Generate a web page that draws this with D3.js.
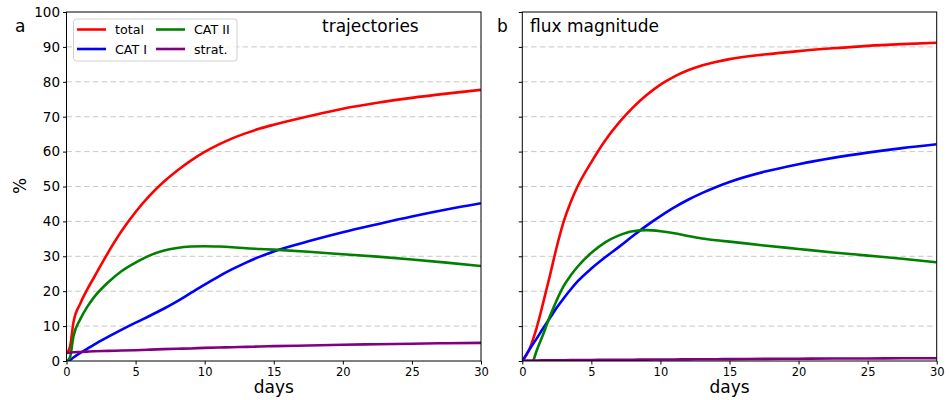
<!DOCTYPE html>
<html>
<head>
<meta charset="utf-8">
<script src="https://cdn.jsdelivr.net/npm/d3@7"></script>
<style>
  body { margin: 0; background: #fff; }
  svg { font-family: "DejaVu Sans", sans-serif; }
</style>
</head>
<body>
<div id="chart"></div>
<script>
// days sampled for panel a
const daysA = [0, 0.25, 0.5, 1, 1.5, 2, 3, 4, 5, 6, 7, 8, 9, 10, 11, 12, 13, 14, 15, 17.5, 20, 22.5, 25, 27.5, 30];
const totalA = [2.3, 4, 11, 16.5, 20.5, 24, 31, 37.3, 42.7, 47.3, 51.2, 54.5, 57.4, 59.9, 62, 63.8, 65.3, 66.6, 67.7, 70.1, 72.3, 74, 75.4, 76.6, 77.7];
const catIA = [0, 0.3, 1, 2.3, 3.5, 4.7, 6.9, 9, 11, 12.9, 14.9, 17.1, 19.5, 21.9, 24.2, 26.3, 28.2, 29.9, 31.4, 34.3, 36.9, 39.2, 41.4, 43.4, 45.2];
const catIIA = [0, 1, 7, 12, 15.5, 18.3, 22.5, 25.8, 28.2, 30.2, 31.6, 32.4, 32.8, 32.9, 32.8, 32.6, 32.3, 32.1, 31.9, 31.3, 30.6, 29.9, 29.1, 28.2, 27.2];
const stratA = [2.3, 2.4, 2.5, 2.6, 2.7, 2.8, 2.9, 3.0, 3.1, 3.25, 3.4, 3.5, 3.6, 3.75, 3.85, 3.95, 4.05, 4.15, 4.25, 4.45, 4.65, 4.8, 4.95, 5.1, 5.2];

// days sampled for panel b
const daysB = [0, 0.5, 0.8, 1, 1.5, 2, 2.5, 3, 3.5, 4, 5, 6, 7, 8, 9, 10, 11, 12, 13, 14, 15, 17.5, 20, 22.5, 25, 27.5, 30];
const totalB = [0, 3.2, 6.5, 9, 16.5, 24.5, 32.8, 40, 45.5, 50, 57, 63.2, 68.3, 72.6, 76.2, 79.2, 81.5, 83.3, 84.7, 85.7, 86.5, 87.8, 88.8, 89.6, 90.3, 90.8, 91.2];
const catIB = [0, 3.2, 5, 6.2, 9.3, 12.3, 15.3, 18, 20.5, 22.8, 26.5, 29.7, 32.7, 35.8, 38.8, 41.5, 44, 46.2, 48.1, 49.8, 51.3, 54.2, 56.4, 58.2, 59.7, 61, 62.1];
const catIIB = [null, null, 0, 2.5, 7.5, 12.8, 17.5, 21.5, 24.5, 27, 31, 34, 36, 37.2, 37.5, 37.2, 36.6, 35.8, 35.1, 34.6, 34.2, 33.1, 32.1, 31.1, 30.2, 29.3, 28.3];
const stratB = [0.1, 0.12, 0.14, 0.15, 0.17, 0.2, 0.21, 0.23, 0.25, 0.26, 0.3, 0.32, 0.35, 0.37, 0.4, 0.42, 0.45, 0.47, 0.5, 0.52, 0.55, 0.6, 0.65, 0.7, 0.73, 0.77, 0.8];

const seriesNames = ["total", "CAT I", "CAT II", "strat."];
const seriesColors = ["red", "blue", "green", "purple"];
const yTicks = [0, 10, 20, 30, 40, 50, 60, 70, 80, 90, 100];
const xTicks = [0, 5, 10, 15, 20, 25, 30];

const width = 951;
const height = 400;
const plotTop = 12, plotBottom = 361;

const panels = [
  { letter: "a", letterX: 15, title: "trajectories", titleX: 322, left: 66.5, right: 481, days: daysA,
    series: [totalA, catIA, catIIA, stratA], yLabels: true, legend: true },
  { letter: "b", letterX: 497, title: "flux magnitude", titleX: 530, left: 522.3, right: 936.7, days: daysB,
    series: [totalB, catIB, catIIB, stratB], yLabels: false, legend: false }
];

const svg = d3.select("#chart").append("svg")
  .attr("width", width)
  .attr("height", height);

const y = d3.scaleLinear().domain([0, 100]).range([plotBottom, plotTop]);

panels.forEach((p, pi) => {
  const x = d3.scaleLinear().domain([0, 30]).range([p.left, p.right]);
  const g = svg.append("g");

  // grid
  g.selectAll(".grid")
    .data(yTicks.filter(d => d > 0 && d < 100))
    .join("line")
    .attr("x1", p.left).attr("x2", p.right)
    .attr("y1", d => y(d)).attr("y2", d => y(d))
    .attr("stroke", "#c8c8c8")
    .attr("stroke-width", 1)
    .attr("stroke-dasharray", "5.5,3.3");

  // clip
  svg.append("clipPath").attr("id", "clip" + pi)
    .append("rect")
    .attr("x", p.left).attr("y", plotTop)
    .attr("width", p.right - p.left).attr("height", plotBottom - plotTop);

  const line = d3.line()
    .defined(d => d[1] != null)
    .x(d => x(d[0]))
    .y(d => y(d[1]))
    .curve(d3.curveMonotoneX);

  p.series.forEach((vals, i) => {
    g.append("path")
      .attr("clip-path", `url(#clip${pi})`)
      .attr("d", line(p.days.map((d, j) => [d, vals[j]])))
      .attr("fill", "none")
      .attr("stroke", seriesColors[i])
      .attr("stroke-width", 2.6)
      .attr("stroke-linejoin", "round");
  });

  // frame
  g.append("rect")
    .attr("x", p.left).attr("y", plotTop)
    .attr("width", p.right - p.left).attr("height", plotBottom - plotTop)
    .attr("fill", "none")
    .attr("stroke", "black")
    .attr("stroke-width", 1);

  // axes
  const yAxis = d3.axisLeft(y).tickValues(yTicks).tickSize(3.5).tickPadding(3)
    .tickFormat(p.yLabels ? d3.format("d") : "");
  const ya = g.append("g").attr("transform", `translate(${p.left},0)`).call(yAxis);
  ya.select(".domain").remove();
  ya.selectAll("text").attr("font-size", 13.5).attr("font-family", "DejaVu Sans").attr("fill", "#000");

  const xAxis = d3.axisBottom(x).tickValues(xTicks).tickSize(3.5).tickPadding(3);
  const xa = g.append("g").attr("transform", `translate(0,${plotBottom})`).call(xAxis);
  xa.select(".domain").remove();
  xa.selectAll("text").attr("font-size", 11.5).attr("font-family", "DejaVu Sans").attr("fill", "#000");

  // x label
  g.append("text")
    .attr("x", (p.left + p.right) / 2)
    .attr("y", 393)
    .attr("text-anchor", "middle")
    .attr("font-size", 17)
    .text("days");

  // panel letter
  g.append("text")
    .attr("x", p.letterX)
    .attr("y", 32)
    .attr("font-size", 17)
    .text(p.letter);

  // title
  g.append("text")
    .attr("x", p.titleX)
    .attr("y", 32)
    .attr("font-size", 17)
    .text(p.title);

  if (p.legend) {
    const lg = g.append("g");
    lg.append("rect")
      .attr("x", 73.5).attr("y", 19)
      .attr("width", 163.5).attr("height", 42)
      .attr("rx", 3)
      .attr("fill", "white").attr("fill-opacity", 0.8)
      .attr("stroke", "#d0d0d0");
    const cols = [0, 0, 1, 1];
    const rows = [0, 1, 0, 1];
    const colX = [77, 156];
    const rowY = [29.5, 49];
    seriesNames.forEach((name, i) => {
      const cx = colX[cols[i]];
      const cy = rowY[rows[i]];
      lg.append("line")
        .attr("x1", cx).attr("x2", cx + 29)
        .attr("y1", cy).attr("y2", cy)
        .attr("stroke", seriesColors[i])
        .attr("stroke-width", 2.6);
      lg.append("text")
        .attr("x", cx + 38)
        .attr("y", cy)
        .attr("dy", "0.36em")
        .attr("font-size", 12.7)
        .text(name);
    });
  }
});

// y label
svg.append("text")
  .attr("transform", "translate(26,186) rotate(-90)")
  .attr("text-anchor", "middle")
  .attr("font-size", 17)
  .text("%");
</script>
</body>
</html>
